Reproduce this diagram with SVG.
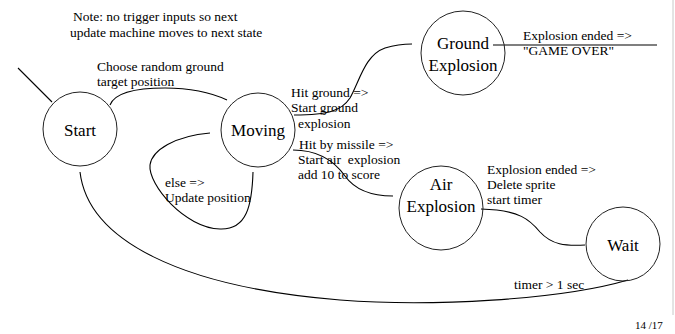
<svg xmlns="http://www.w3.org/2000/svg" width="675" height="334" viewBox="0 0 675 334">
<style>
.node circle{fill:none;stroke:#222;stroke-width:1}
.st{font-size:17px;fill:#000;text-anchor:middle}
.lb{font-size:13.5px;fill:#000}
.edges path,.edges line{fill:none;stroke:#000;stroke-width:1.1}
</style>
<rect width="675" height="334" fill="#fff"/>
<line x1="673" y1="0" x2="673" y2="315" stroke="#c8c8c8" stroke-width="1"/>
<g font-family="'Liberation Serif', 'DejaVu Serif', serif">
<g id="note">
<text class="lb" x="73" y="21">Note: no trigger inputs so next</text>
<text class="lb" x="70" y="37">update machine moves to next state</text>
</g>
<g class="edges" id="connectors">
<line x1="18" y1="68" x2="52" y2="102"/>
<path d="M110,105 C115,92 140,88 165,88 C190,88 212,93 227,100"/>
<path d="M210,133 C175,136 152,150 150,165 C148,185 185,228 220,229 C247,230 252,205 253,172"/>
<path d="M80,172 C88,240 180,287 340,300 C430,307 560,300 628,280"/>
<path d="M294,115 C330,115 342,110 350,98 C360,80 365,55 385,48 C395,45 402,44 412,44"/>
<path d="M293,150 C320,150 335,162 345,176 C355,190 370,196 393,196"/>
<path d="M481,209 C520,210 530,220 540,232 C552,245 565,246 585,245"/>
<line x1="493" y1="45" x2="657" y2="45"/>
</g>
<g id="start" class="node"><circle cx="80" cy="129" r="37"/><text class="st" x="80" y="136">Start</text></g>
<g id="moving" class="node"><circle cx="258" cy="130" r="37"/><text class="st" x="258" y="136">Moving</text></g>
<g id="ground" class="node"><circle cx="463" cy="53" r="42"/><text class="st" x="463" y="49">Ground</text><text class="st" x="463" y="71">Explosion</text></g>
<g id="air" class="node"><circle cx="441" cy="208" r="42"/><text class="st" x="441" y="190">Air</text><text class="st" x="441" y="212">Explosion</text></g>
<g id="wait" class="node"><circle cx="623" cy="244" r="37"/><text class="st" x="623" y="251">Wait</text></g>
<g id="labels">
<text class="lb" x="97" y="71">Choose random ground</text>
<text class="lb" x="97" y="86">target position</text>
<text class="lb" x="291" y="97">Hit ground =&gt;</text>
<text class="lb" x="291" y="112">Start ground</text>
<text class="lb" x="298" y="128">explosion</text>
<text class="lb" x="299" y="149">Hit by missile =&gt;</text>
<text class="lb" x="298" y="164" xml:space="preserve">Start air  explosion</text>
<text class="lb" x="298" y="179">add 10 to score</text>
<text class="lb" x="165" y="187">else =&gt;</text>
<text class="lb" x="165" y="202">Update position</text>
<text class="lb" x="523" y="40">Explosion ended =&gt;</text>
<text class="lb" x="523" y="55">"GAME OVER"</text>
<text class="lb" x="487" y="174">Explosion ended =&gt;</text>
<text class="lb" x="487" y="189">Delete sprite</text>
<text class="lb" x="487" y="204">start timer</text>
<text class="lb" x="514" y="289">timer &gt; 1 sec</text>
<text class="lb" x="635" y="329" style="font-size:11px">14 /17</text>
</g>
</g>
</svg>
